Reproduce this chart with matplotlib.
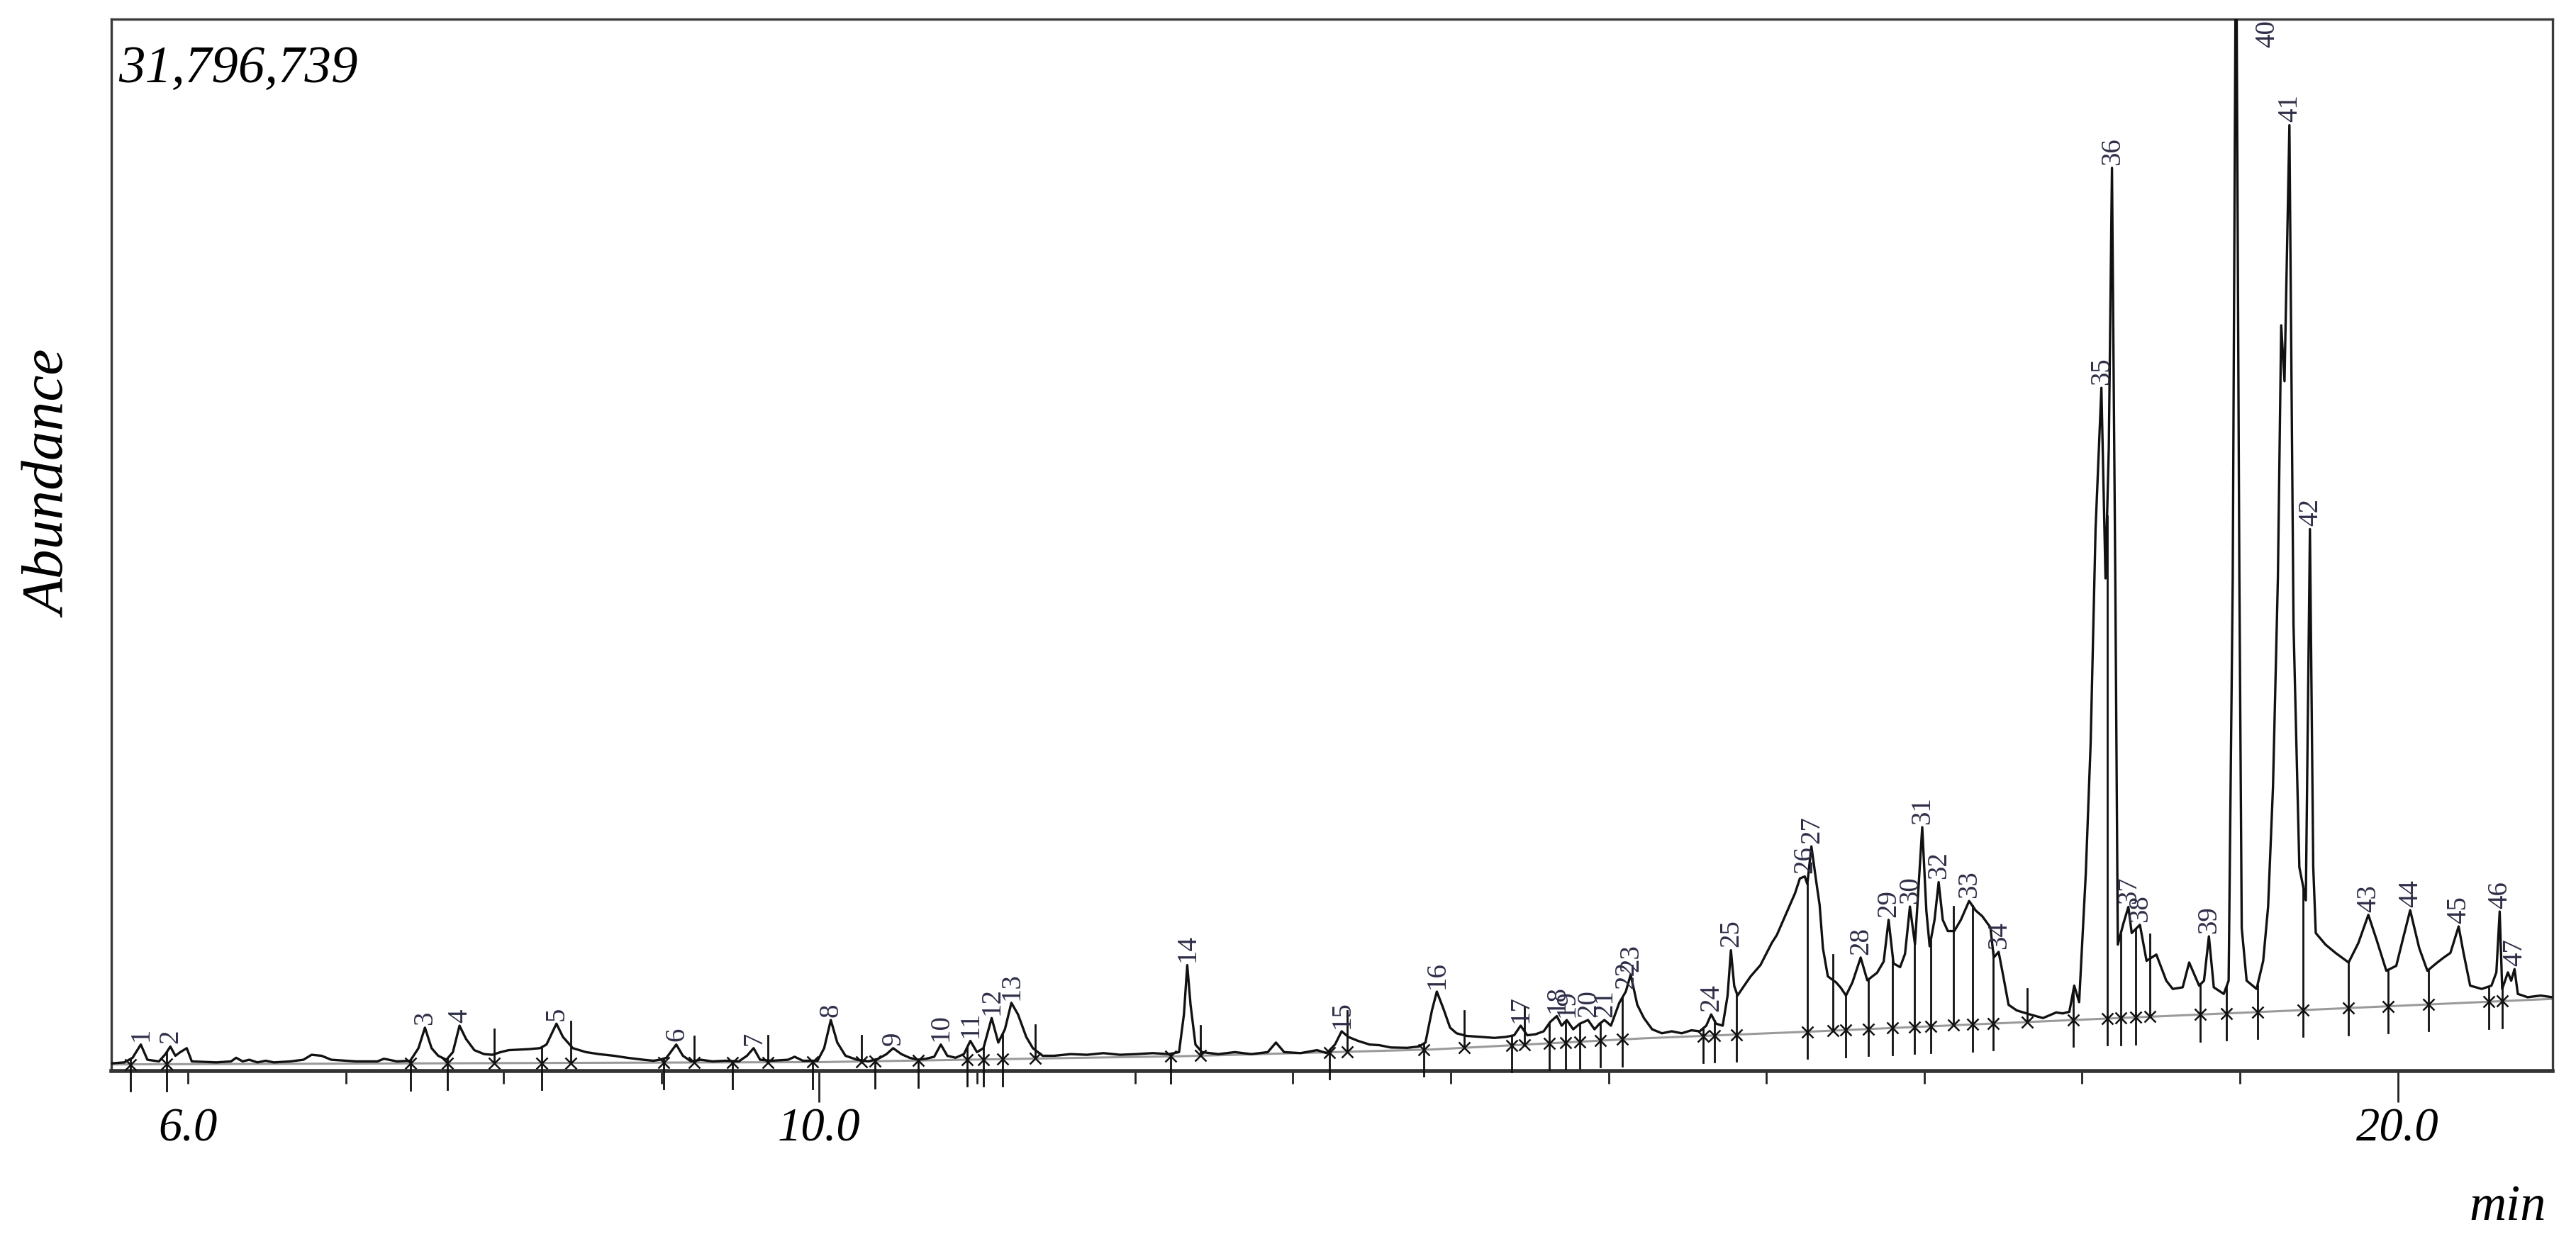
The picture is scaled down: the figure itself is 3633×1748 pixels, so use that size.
import matplotlib
matplotlib.use("Agg")
import matplotlib.pyplot as plt
import numpy as np


plt.rcParams.update(
    {
        "font.family": "Liberation Serif",
        "figure.facecolor": "white",
        "axes.facecolor": "white",
    }
)

FULL_SCALE = 31796739  # counts at the top of the frame

# TIC trace: retention time (min) and abundance (millions of counts)
rt = [
    5.515, 5.598, 5.650, 5.702, 5.744, 5.817, 5.858, 5.889, 5.921, 5.952, 5.993, 6.025,
    6.181, 6.274, 6.306, 6.347, 6.389, 6.441, 6.493, 6.545, 6.649, 6.732, 6.784, 6.847,
    6.909, 7.065, 7.201, 7.242, 7.325, 7.409, 7.461, 7.502, 7.544, 7.586, 7.638, 7.679,
    7.721, 7.762, 7.815, 7.877, 7.929, 7.981, 8.033, 8.158, 8.231, 8.272, 8.335, 8.376,
    8.439, 8.522, 8.605, 8.699, 8.782, 8.886, 8.949, 8.990, 9.032, 9.094, 9.136, 9.188,
    9.251, 9.323, 9.407, 9.490, 9.542, 9.584, 9.625, 9.698, 9.802, 9.844, 9.896, 9.989,
    10.031, 10.073, 10.114, 10.166, 10.239, 10.312, 10.374, 10.426, 10.468, 10.520, 10.572, 10.624,
    10.676, 10.728, 10.770, 10.811, 10.863, 10.916, 10.957, 10.999, 11.040, 11.092, 11.134, 11.176,
    11.217, 11.259, 11.311, 11.353, 11.415, 11.488, 11.592, 11.696, 11.800, 11.904, 12.008, 12.112,
    12.216, 12.279, 12.310, 12.331, 12.352, 12.383, 12.424, 12.528, 12.633, 12.737, 12.841, 12.893,
    12.945, 13.049, 13.153, 13.215, 13.267, 13.309, 13.351, 13.413, 13.486, 13.548, 13.621, 13.725,
    13.798, 13.840, 13.881, 13.912, 13.954, 13.996, 14.037, 14.100, 14.193, 14.277, 14.349, 14.402,
    14.443, 14.485, 14.537, 14.589, 14.630, 14.672, 14.703, 14.735, 14.776, 14.818, 14.870, 14.911,
    14.943, 14.974, 15.015, 15.068, 15.109, 15.140, 15.182, 15.224, 15.276, 15.338, 15.400, 15.463,
    15.525, 15.577, 15.619, 15.650, 15.681, 15.723, 15.754, 15.775, 15.796, 15.817, 15.858, 15.900,
    15.962, 16.035, 16.066, 16.108, 16.149, 16.181, 16.212, 16.243, 16.259, 16.285, 16.316, 16.337,
    16.358, 16.389, 16.441, 16.472, 16.504, 16.545, 16.597, 16.639, 16.701, 16.743, 16.774, 16.805,
    16.847, 16.878, 16.909, 16.941, 16.987, 17.013, 17.034, 17.065, 17.091, 17.117, 17.149, 17.190,
    17.232, 17.284, 17.326, 17.367, 17.419, 17.440, 17.471, 17.503, 17.534, 17.586, 17.669, 17.752,
    17.836, 17.877, 17.919, 17.950, 17.981, 18.023, 18.054, 18.085, 18.122, 18.148, 18.169, 18.189,
    18.210, 18.226, 18.262, 18.293, 18.314, 18.366, 18.408, 18.470, 18.533, 18.574, 18.637, 18.678,
    18.741, 18.772, 18.803, 18.834, 18.897, 18.928, 18.954, 18.975, 18.996, 19.011, 19.042, 19.105,
    19.147, 19.178, 19.209, 19.240, 19.261, 19.282, 19.313, 19.339, 19.376, 19.417, 19.443, 19.464,
    19.480, 19.542, 19.605, 19.688, 19.750, 19.813, 19.865, 19.927, 19.990, 20.031, 20.078, 20.135,
    20.187, 20.250, 20.291, 20.333, 20.385, 20.416, 20.458, 20.531, 20.593, 20.624, 20.645, 20.661,
    20.697, 20.718, 20.739, 20.760, 20.822, 20.905, 20.978,
]
abundance = [
    0.23, 0.26, 0.40, 0.80, 0.34, 0.29, 0.51, 0.74, 0.46, 0.57, 0.69, 0.29,
    0.26, 0.29, 0.40, 0.29, 0.34, 0.26, 0.31, 0.26, 0.29, 0.34, 0.49, 0.46,
    0.34, 0.29, 0.29, 0.37, 0.29, 0.31, 0.69, 1.31, 0.69, 0.46, 0.34, 0.57,
    1.37, 0.97, 0.63, 0.51, 0.49, 0.57, 0.63, 0.66, 0.69, 0.80, 1.43, 1.03,
    0.69, 0.57, 0.51, 0.46, 0.40, 0.34, 0.31, 0.34, 0.40, 0.80, 0.46, 0.29,
    0.34, 0.29, 0.31, 0.29, 0.46, 0.69, 0.34, 0.31, 0.34, 0.43, 0.31, 0.31,
    0.69, 1.54, 0.86, 0.46, 0.34, 0.29, 0.37, 0.51, 0.69, 0.51, 0.40, 0.34,
    0.37, 0.43, 0.80, 0.46, 0.40, 0.51, 0.91, 0.57, 0.69, 1.60, 0.86, 1.26,
    2.06, 1.71, 1.03, 0.69, 0.46, 0.46, 0.51, 0.49, 0.54, 0.49, 0.51, 0.54,
    0.51, 0.57, 1.71, 3.20, 2.00, 0.80, 0.57, 0.51, 0.57, 0.51, 0.57, 0.86,
    0.57, 0.54, 0.63, 0.54, 0.80, 1.20, 1.03, 0.91, 0.80, 0.78, 0.71, 0.70,
    0.74, 0.86, 1.83, 2.40, 1.88, 1.31, 1.14, 1.06, 1.03, 1.00, 1.03, 1.08,
    1.37, 1.08, 1.11, 1.20, 1.48, 1.66, 1.37, 1.54, 1.26, 1.43, 1.54, 1.26,
    1.43, 1.54, 1.37, 2.06, 2.40, 2.91, 2.00, 1.60, 1.26, 1.14, 1.20, 1.14,
    1.23, 1.20, 1.37, 1.71, 1.43, 1.37, 2.28, 3.65, 2.57, 2.28, 2.57, 2.86,
    3.20, 3.88, 4.11, 4.57, 5.02, 5.37, 5.82, 5.88, 5.65, 6.79, 5.71, 5.02,
    3.71, 2.86, 2.68, 2.51, 2.28, 2.68, 3.43, 2.74, 2.97, 3.31, 4.57, 3.25,
    3.14, 3.54, 4.97, 3.83, 7.37, 4.85, 3.77, 4.57, 5.71, 4.57, 4.23, 4.23,
    4.57, 5.14, 4.85, 4.68, 4.34, 3.43, 3.60, 2.80, 2.00, 1.83, 1.71, 1.60,
    1.77, 1.74, 1.79, 2.58, 2.08, 5.96, 9.93, 16.38, 20.65, 14.89, 18.86, 27.30,
    14.89, 3.82, 4.47, 4.96, 4.17, 4.42, 3.33, 3.52, 2.73, 2.48, 2.53, 3.28,
    2.58, 2.73, 4.07, 2.53, 2.33, 2.73, 14.89, 35.74, 14.89, 4.32, 2.73, 2.48,
    3.33, 4.96, 8.59, 14.89, 22.54, 20.85, 28.59, 13.50, 6.16, 5.16, 16.38, 6.16,
    4.17, 3.82, 3.57, 3.28, 3.87, 4.72, 3.97, 3.03, 3.18, 3.97, 4.86, 3.72,
    3.03, 3.28, 3.43, 3.57, 4.37, 3.57, 2.58, 2.48, 2.58, 2.98, 4.82, 2.48,
    2.98, 2.73, 3.08, 2.33, 2.23, 2.28, 2.23,
]

# numbered peaks and their apex retention times
peak_ids = list(range(1, 48))
peak_rt = [
    5.702, 5.889, 7.502, 7.721, 8.335, 9.094, 9.584, 10.073, 10.468, 10.770,
    10.957, 11.092, 11.217, 12.331, 13.309, 13.912, 14.443, 14.672, 14.735, 14.870,
    14.974, 15.109, 15.140, 15.650, 15.775, 16.243, 16.285, 16.597, 16.774, 16.909,
    16.987, 17.091, 17.284, 17.471, 18.122, 18.189, 18.293, 18.366, 18.803, 18.975,
    19.313, 19.443, 19.813, 20.078, 20.385, 20.645, 20.739,
]

# integration marks: peak start drop lines and peak end ticks (min)
drop_rt = [
    5.636, 5.866, 7.412, 7.646, 8.241, 9.014, 9.450, 9.958, 10.354, 10.628,
    10.936, 11.040, 11.161, 12.227, 13.233, 13.829, 14.388, 14.624, 14.728, 14.818,
    14.949, 15.088, 15.598, 15.671, 15.812, 16.259, 16.504, 16.644, 16.800, 16.938,
    17.041, 17.307, 17.436, 17.943, 18.158, 18.244, 18.337, 18.749, 18.915, 19.110,
    19.399, 19.688, 19.940, 20.192, 20.574, 20.661,
]
end_rt = [
    7.939, 8.428, 9.209, 9.673, 10.267, 11.367, 12.414, 13.343, 14.084, 14.468,
    16.420, 17.186, 17.650, 18.429,
]

# integration baseline (grey)
base_rt = [5.515, 10.031, 12.320, 13.881, 15.234, 16.275, 17.940, 19.397, 20.978]
base_abund = [0.20, 0.27, 0.45, 0.65, 0.99, 1.19, 1.54, 1.84, 2.18]

minute_ticks = list(range(6, 21))
long_ticks = [10, 20]
tick_text = {6: "6.0", 10: "10.0", 20: "20.0"}


def main():
    fig = plt.figure(figsize=(36.33, 17.48), dpi=100)
    ax = fig.add_axes([0.0432, 0.1356, 0.9477, 0.849])

    top = FULL_SCALE / 1e6
    ax.set_xlim(5.515, 20.98)
    ax.set_ylim(0, top)

    t = np.array(rt)
    a = np.array(abundance)
    bt = np.array(base_rt)
    ba = np.array(base_abund)

    ax.plot(bt, ba, color="#9a9a9a", lw=2.2, zorder=2)
    ax.plot(t, a, color="#111111", lw=2.4, zorder=3, solid_joinstyle="round")

    # drop lines at peak starts
    for x in drop_rt:
        sig = np.interp(x, t, a)
        b = np.interp(x, bt, ba)
        ax.plot([x, x], [sig, b - 0.8], color="#111111", lw=2.0, zorder=4, clip_on=False)
        ax.plot([x], [b], marker="x", ms=12, mew=1.8, color="#111111", zorder=4, clip_on=False)
    # end ticks
    for x in end_rt:
        sig = np.interp(x, t, a)
        b = np.interp(x, bt, ba)
        ax.plot([x, x], [b, sig + 0.75], color="#111111", lw=2.0, zorder=4)
        ax.plot([x], [b], marker="x", ms=12, mew=1.8, color="#111111", zorder=4)

    # peak numbers
    for pid, x in zip(peak_ids, peak_rt):
        y = np.interp(x, t, a)
        if y > top:
            ax.text(x + 0.2, top - 0.85, str(pid), rotation=90, ha="center", va="bottom",
                    fontsize=28, color="#2e2e48", zorder=5, clip_on=True)
            continue
        ax.annotate(str(pid), (x, y), xytext=(0.5, 3), textcoords="offset points",
                    rotation=90, ha="center", va="bottom", fontsize=28,
                    color="#2e2e48", zorder=5, annotation_clip=False)

    # frame
    for side in ["left", "right", "top"]:
        ax.spines[side].set_linewidth(2.4)
        ax.spines[side].set_color("#3a3a3a")
    ax.spines["bottom"].set_linewidth(4.0)
    ax.spines["bottom"].set_color("#333333")

    ax.set_yticks([])
    ax.set_xticks(long_ticks, [tick_text[m] for m in long_ticks])
    minors = [m for m in minute_ticks if m not in long_ticks]
    ax.set_xticks(minors, [tick_text.get(m, "") for m in minors], minor=True)
    ax.tick_params(axis="x", which="major", direction="out", length=32, width=2.0,
                   pad=5, labelsize=48, color="#222222")
    ax.tick_params(axis="x", which="minor", direction="out", length=13, width=2.0,
                   pad=24, labelsize=48, color="#222222")
    for lab in ax.get_xticklabels() + ax.get_xticklabels(minor=True):
        lab.set_fontstyle("italic")

    ax.text(0.003, 0.975, "31,796,739", transform=ax.transAxes, ha="left", va="top",
            fontsize=54, fontstyle="italic")
    fig.text(0.0201, 0.609, "Abundance", rotation=90, ha="center", va="center",
             fontsize=60, fontstyle="italic")
    fig.text(0.9884, 0.0252, "min", ha="right", va="center", fontsize=52, fontstyle="italic")

    fig.savefig("out.png", dpi=100)


if __name__ == "__main__":
    main()
